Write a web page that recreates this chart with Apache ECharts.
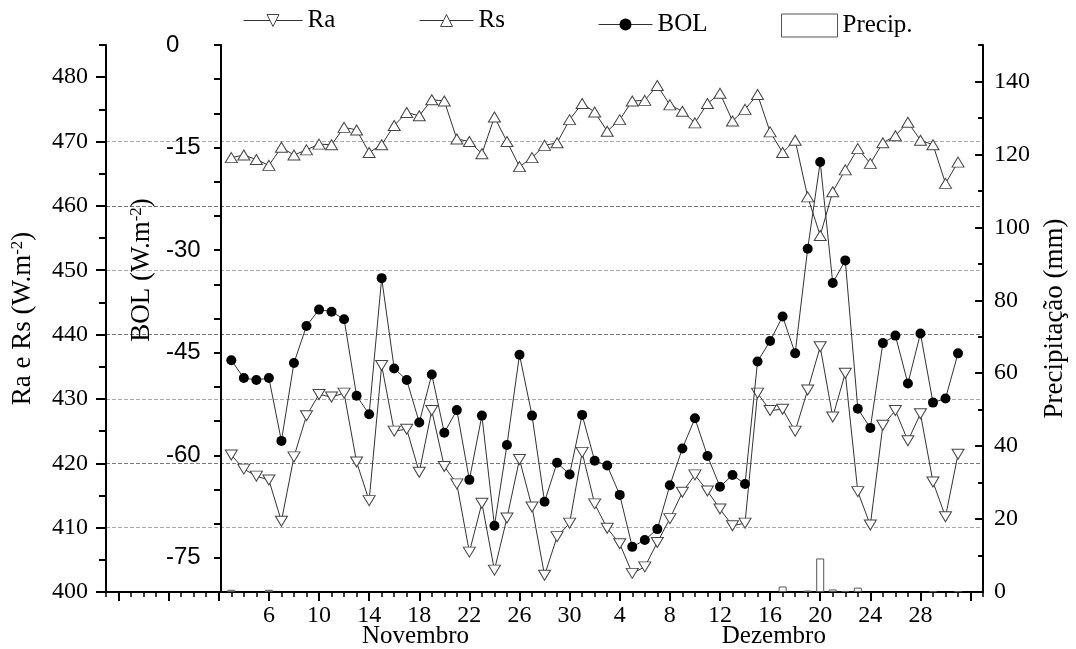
<!DOCTYPE html>
<html>
<head>
<meta charset="utf-8">
<script src="https://cdn.jsdelivr.net/npm/echarts@6/dist/echarts.min.js"></script>
<style>html,body{margin:0;padding:0;background:#fff}#c{width:1076px;height:649px}</style>
</head>
<body>
<div id="c"></div>
<script>
// Day index: 1 = 1 Nov, 31 = 1 Dec
const days = [3,4,5,6,7,8,9,10,11,12,13,14,15,16,17,18,19,20,21,22,23,24,25,26,27,28,29,30,31,32,33,34,35,36,37,38,39,40,41,42,43,44,45,46,47,48,49,50,51,52,53,54,55,56,57,58,59,60,61];
const ra = [421.3,419.1,418.0,417.4,411.0,421.0,427.4,430.7,430.3,430.9,420.2,414.2,435.2,425.0,425.3,418.6,428.2,419.5,416.8,406.2,413.8,403.4,411.5,420.6,413.2,402.6,408.6,410.7,421.7,413.7,409.9,407.5,402.9,403.9,407.7,411.4,415.5,418.2,415.7,412.9,410.3,410.7,430.9,428.2,428.4,425.0,431.4,438.1,427.2,434.0,415.6,410.4,425.9,428.2,423.5,427.7,417.1,411.7,421.4];
const rs = [467.5,467.9,467.2,466.3,469.1,467.9,468.7,469.6,469.5,472.2,471.8,468.3,469.5,472.5,474.5,474.0,476.5,476.3,470.4,470.0,468.1,473.8,470.0,466.1,467.5,469.4,469.8,473.4,475.9,474.6,471.6,473.4,476.3,476.4,478.7,475.7,474.7,472.9,475.9,477.5,473.2,475.0,477.3,471.5,468.3,470.2,461.4,455.4,462.2,465.6,468.9,466.6,469.8,470.9,473.0,470.2,469.5,463.5,466.8];
const bol = [-46.1,-48.7,-49.0,-48.7,-57.9,-46.5,-41.1,-38.7,-39.0,-40.1,-51.3,-54.0,-34.1,-47.3,-49.0,-55.2,-48.2,-56.7,-53.4,-63.6,-54.2,-70.3,-58.5,-45.3,-54.2,-66.8,-61.1,-62.8,-54.1,-60.8,-61.5,-65.8,-73.4,-72.4,-70.8,-64.4,-59.0,-54.6,-60.1,-64.6,-62.9,-64.2,-46.3,-43.3,-39.7,-45.1,-29.8,-17.1,-34.8,-31.5,-53.2,-56.0,-43.6,-42.5,-49.5,-42.2,-52.3,-51.7,-45.1];
const precip = [0.6,0,0,0.6,0,0,0,0,0,0, 0,0,0,0,0,0,0,0,0,0, 0,0,0,0,0,0,0,0,0,0, 0,0,0,0,0,0,0,0,0,0, 0,0,0,0,1.5,0,0.4,9.2,0.7,0.3, 1.2,0,0,0,0,0,0.2,0,0.2];

const xMajorTicks = [-6,-2,2,6,10,14,18,22,26,30,34,38,42,46,50,54,58,62];
const xLabelDays = [6,10,14,18,22,26,30,34,38,42,46,50,54,58];
const xLabelTexts = ['6','10','14','18','22','26','30','4','8','12','16','20','24','28'];
const monthNames = ['Novembro','Dezembro'];
const monthCenters = [17.7, 46.3];
const raRsTicks = [400,410,420,430,440,450,460,470,480];
const raRsMinorTicks = [405,415,425,435,445,455,465,475,485];
const bolLabels = [-75,-60,-45,-30,-15,0];
const bolTicks = [-80,-75,-70,-65,-60,-55,-50,-45,-40,-35,-30,-25,-20,-15,-10,-5,0];
const precipLabels = [0,20,40,60,80,100,120,140];
const precipMinorTicks = [10,30,50,70,90,110,130,150];

const xMinorTicks = [];
for (let v = -7; v <= 63; v++) xMinorTicks.push(v);

const SERIF = '"Liberation Serif","Times New Roman",serif';
const SANS = '"Liberation Sans",Arial,sans-serif';
const black = '#000';
const axisLine = {show: true, onZero: false, lineStyle: {color: black, width: 2}};
const noLine = {show: false, onZero: false};
const serifLabel = {fontFamily: SERIF, fontSize: 24, color: black};
const nameStyle = {fontFamily: SERIF, fontSize: 27, color: black,
  rich: {s: {fontFamily: SERIF, fontSize: 17, color: black, verticalAlign: 'top'}}};

const chart = echarts.init(document.getElementById('c'));

const legendCommon = {
  selectedMode: false, padding: 0, itemGap: 0,
  textStyle: {fontFamily: SERIF, fontSize: 25, color: black},
  itemStyle: {borderWidth: 1},
  lineStyle: {width: 1}
};

chart.setOption({
  animation: false,
  backgroundColor: '#fff',
  grid: {left: 106, right: 80, top: 45, bottom: 57, containLabel: false},
  legend: [
    Object.assign({data: ['Ra'], left: 243, top: 8, itemWidth: 59, itemHeight: 15}, legendCommon),
    Object.assign({data: ['Rs'], left: 419, top: 8, itemWidth: 54, itemHeight: 15}, legendCommon),
    Object.assign({data: ['BOL'], left: 598, top: 12, itemWidth: 54, itemHeight: 15}, legendCommon),
    Object.assign({data: ['Precip.'], left: 781, top: 13, itemWidth: 56, itemHeight: 23, icon: 'rect'}, legendCommon)
  ],
  xAxis: [
    {
      type: 'value', min: -7, max: 63, position: 'bottom',
      axisLine: axisLine,
      axisTick: {show: true, customValues: xMajorTicks, length: 9, lineStyle: {color: black, width: 2}},
      axisLabel: Object.assign({
        customValues: xLabelDays, margin: 12,
        formatter: v => { const i = xLabelDays.indexOf(Math.round(v)); return i >= 0 ? xLabelTexts[i] : ''; }
      }, serifLabel),
      splitLine: {show: false}
    },
    {
      type: 'value', min: -7, max: 63, position: 'bottom',
      axisLine: noLine,
      axisTick: {show: true, customValues: xMinorTicks, length: 5, lineStyle: {color: black, width: 1.5}},
      axisLabel: {show: false},
      splitLine: {show: false}
    },
    {
      type: 'value', min: -7, max: 63, position: 'bottom',
      axisLine: noLine,
      axisTick: {show: false},
      axisLabel: {
        customValues: monthCenters, margin: 32,
        fontFamily: SERIF, fontSize: 25, color: black,
        formatter: v => { const i = monthCenters.indexOf(v); return i >= 0 ? monthNames[i] : ''; }
      },
      splitLine: {show: false}
    }
  ],
  yAxis: [
    {
      type: 'value', min: 400, max: 485, interval: 10, position: 'left', offset: 0,
      axisLine: axisLine,
      axisTick: {show: true, customValues: raRsTicks, length: 10, lineStyle: {color: black, width: 2}},
      axisLabel: Object.assign({customValues: raRsTicks, margin: 18}, serifLabel),
      splitLine: {show: true, showMinLine: false, showMaxLine: false,
        lineStyle: {type: [4, 2], color: ['#aaa', '#777'], width: 1}},
      name: 'Ra e Rs (W.m{s|-2})', nameLocation: 'middle', nameGap: 70, nameRotate: 90,
      nameTextStyle: nameStyle
    },
    {
      type: 'value', min: 400, max: 485, position: 'left', offset: 0,
      axisLine: noLine,
      axisTick: {show: true, customValues: raRsMinorTicks, length: 7, lineStyle: {color: black, width: 2}},
      axisLabel: {show: false},
      splitLine: {show: false}
    },
    {
      type: 'value', min: -80, max: 0, position: 'left', offset: -115,
      axisLine: axisLine,
      axisTick: {show: true, customValues: bolTicks, length: 7, lineStyle: {color: black, width: 2}},
      axisLabel: {customValues: bolLabels, margin: 55, align: 'left', fontFamily: SANS, fontSize: 24, color: black,
        showMinLabel: true, showMaxLabel: true},
      splitLine: {show: false},
      name: 'BOL (W.m{s|-2})', nameLocation: 'middle', nameGap: 59, nameRotate: 90,
      nameTextStyle: Object.assign({padding: [0, 0, 0, 97]}, nameStyle)
    },
    {
      type: 'value', min: 0, max: 150, position: 'right', offset: 0,
      axisLine: axisLine,
      axisTick: {show: true, inside: true, customValues: precipLabels, length: 8, lineStyle: {color: black, width: 2}},
      axisLabel: Object.assign({customValues: precipLabels, margin: 11}, serifLabel),
      splitLine: {show: false},
      name: 'Precipitação (mm)', nameLocation: 'middle', nameGap: 42, nameRotate: 90,
      nameTextStyle: nameStyle
    },
    {
      type: 'value', min: 0, max: 150, position: 'right', offset: 0,
      axisLine: noLine,
      axisTick: {show: true, inside: true, customValues: precipMinorTicks, length: 5, lineStyle: {color: black, width: 2}},
      axisLabel: {show: false},
      splitLine: {show: false}
    }
  ],
  series: [
    {
      name: 'Precip.', type: 'bar', xAxisIndex: 0, yAxisIndex: 3, barWidth: 8, z: 1,
      data: days.map((d, i) => [d, precip[i] > 0 ? precip[i] : '-']),
      itemStyle: {color: '#fff', borderColor: '#555', borderWidth: 1}
    },
    {
      name: 'Ra', type: 'line', xAxisIndex: 0, yAxisIndex: 0, z: 3,
      data: days.map((d, i) => [d, ra[i]]),
      symbol: 'triangle', symbolRotate: 180, symbolSize: [12, 10],
      itemStyle: {color: '#fff', borderColor: '#444', borderWidth: 1},
      lineStyle: {color: '#333', width: 1}
    },
    {
      name: 'Rs', type: 'line', xAxisIndex: 0, yAxisIndex: 0, z: 3,
      data: days.map((d, i) => [d, rs[i]]),
      symbol: 'triangle', symbolSize: [12, 10],
      itemStyle: {color: '#fff', borderColor: '#444', borderWidth: 1},
      lineStyle: {color: '#333', width: 1}
    },
    {
      name: 'BOL', type: 'line', xAxisIndex: 0, yAxisIndex: 2, z: 4,
      data: days.map((d, i) => [d, bol[i]]),
      symbol: 'circle', symbolSize: 10,
      itemStyle: {color: '#000'},
      lineStyle: {color: '#333', width: 1}
    }
  ]
});
</script>
</body>
</html>
